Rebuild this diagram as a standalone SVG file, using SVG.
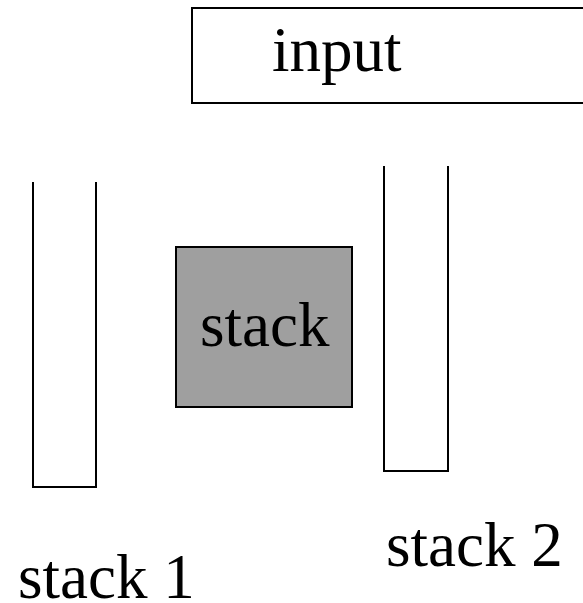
<svg xmlns="http://www.w3.org/2000/svg" width="583" height="603" viewBox="0 0 583 603">
  <style>
    .outline { fill: none; stroke: #000; stroke-width: 2; }
    .label { font-family: "Liberation Serif", "Times New Roman", serif; font-size: 63px; fill: #000; }
  </style>
  <rect width="583" height="603" fill="#fff"/>
  <g id="input">
    <rect class="outline" x="192" y="8" width="400" height="95" fill="#fff"/>
    <text class="label" x="272" y="71">input</text>
  </g>
  <g id="stack1">
    <polyline class="outline" points="33,182 33,487 96,487 96,182"/>
    <text class="label" x="18" y="598">stack 1</text>
  </g>
  <g id="stack">
    <rect x="176" y="247" width="176" height="160" fill="#9f9f9f" stroke="#000" stroke-width="2"/>
    <text class="label" x="200" y="346">stack</text>
  </g>
  <g id="stack2">
    <polyline class="outline" points="384,166 384,471 448,471 448,166"/>
    <text class="label" x="386" y="566">stack 2</text>
  </g>
  <g id="connectors"></g>
</svg>
